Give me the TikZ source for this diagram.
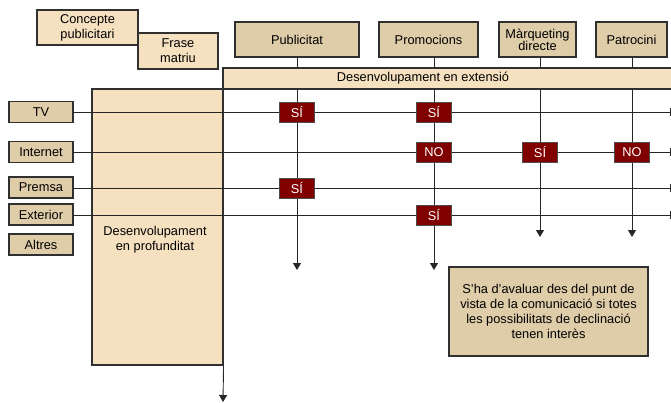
\documentclass[tikz,border=0pt]{standalone}
\usepackage{fontspec}
\setmainfont{Liberation Sans}
\usetikzlibrary{arrows.meta}
\definecolor{tanlight}{HTML}{F5E0C0}
\definecolor{tandark}{HTML}{DFCCA8}
\definecolor{boxred}{HTML}{800000}
\definecolor{linegray}{HTML}{303030}
\tikzset{every node/.style={inner sep=0pt, align=center}, % Text boxes are sized by hand
        media/.style={ % Header boxes of the media
            draw=linegray, line width=1.1pt,
            fill=tandark, minimum height=35pt},
        channel/.style={ % Row labels on the left
            draw=linegray, line width=1.1pt,
            fill=tandark, minimum width=64pt, minimum height=21pt},
        band/.style={ % Light background areas
            draw=linegray, line width=1.1pt, fill=tanlight},
        answer/.style={ % Small red yes/no boxes
            draw=gray!60!black, line width=0.8pt, fill=boxred,
            text=white, minimum width=35pt, minimum height=20pt},
        flow/.style={ % Lines through the grid
            draw=black!85, line width=0.9pt,
            >={Triangle[width=8pt,length=7pt]}}
        }

\begin{document}
\begin{tikzpicture}[x=1pt, y=-1pt, font=\fontsize{12.8}{15}\selectfont]
    \useasboundingbox (0,0) rectangle (671,403);

    \node[band, minimum width=101pt, minimum height=35pt] (k1) at (87.5,27.5) {Concepte\\publicitari};
    \node[band, minimum width=80pt, minimum height=36pt] (k2) at (178,51) {Frase\\matriu};

    \node[media, minimum width=124pt] (m1) at (297,39.5) {Publicitat};
    \node[media, minimum width=99pt] (m2) at (428.5,39.5) {Promocions};
    \node[media, minimum width=77pt] (m3) at (537.5,39.5) {Màrqueting\\[-3pt]directe};
    \node[media, minimum width=71pt] (m4) at (631.5,39.5) {Patrocini};

    \coordinate (v1) at (297,270);
    \coordinate (v2) at (434,270);
    \coordinate (v3) at (540,237);
    \coordinate (v4) at (632,237);
    \draw[flow, ->] (m1.south) -- (v1);
    \draw[flow, ->] (m2.south -| v2) -- (v2);
    \draw[flow, ->] (m3.south -| v3) -- (v3);
    \draw[flow, ->] (m4.south -| v4) -- (v4);

    \node[band, minimum width=457pt, minimum height=21pt] (e1) at (451.5,78.5) {};
    \node (t1) at (423,78.5) {Desenvolupament en extensió};
    \node[band, minimum width=131pt, minimum height=276pt] (d1) at (157.5,227) {};
    \node (t2) at (155,240) {Desenvolupament\\en profunditat};
    \coordinate (v0) at (223,402);
    \draw[flow, ->] (d1.south east) -- (v0);

    \node[channel] (c1) at (41,112) {TV};
    \node[channel] (c2) at (41,152) {Internet};
    \node[channel] (c3) at (41,187.5) {Premsa};
    \node[channel] (c4) at (41,214.5) {Exterior};
    \node[channel] (c5) at (41,244.5) {Altres};

    \coordinate (h1) at (677,112);
    \coordinate (h2) at (677,152);
    \coordinate (h3) at (677,188);
    \coordinate (h4) at (677,215);
    \draw[flow, ->] (c1.east |- h1) -- (h1);
    \draw[flow, ->] (c2.east |- h2) -- (h2);
    \draw[flow, ->] (c3.east |- h3) -- (h3);
    \draw[flow, ->] (c4.east |- h4) -- (h4);

    \node[answer] (s1) at (297,112) {SÍ};
    \node[answer] (s2) at (297,188) {SÍ};
    \node[answer] (s3) at (434,112) {SÍ};
    \node[answer] (n1) at (434,152) {NO};
    \node[answer] (s4) at (540,152) {SÍ};
    \node[answer] (n2) at (632,152) {NO};
    \node[answer] (s5) at (434,215) {SÍ};

    \node[draw=linegray, line width=1.1pt, fill=tandark, minimum width=199pt, minimum height=89pt] (p1) at (548.5,311.5)
        {S'ha d'avaluar des del punt de\\vista de la comunicació si totes\\les possibilitats de declinació\\tenen interès};
\end{tikzpicture}
\end{document}
